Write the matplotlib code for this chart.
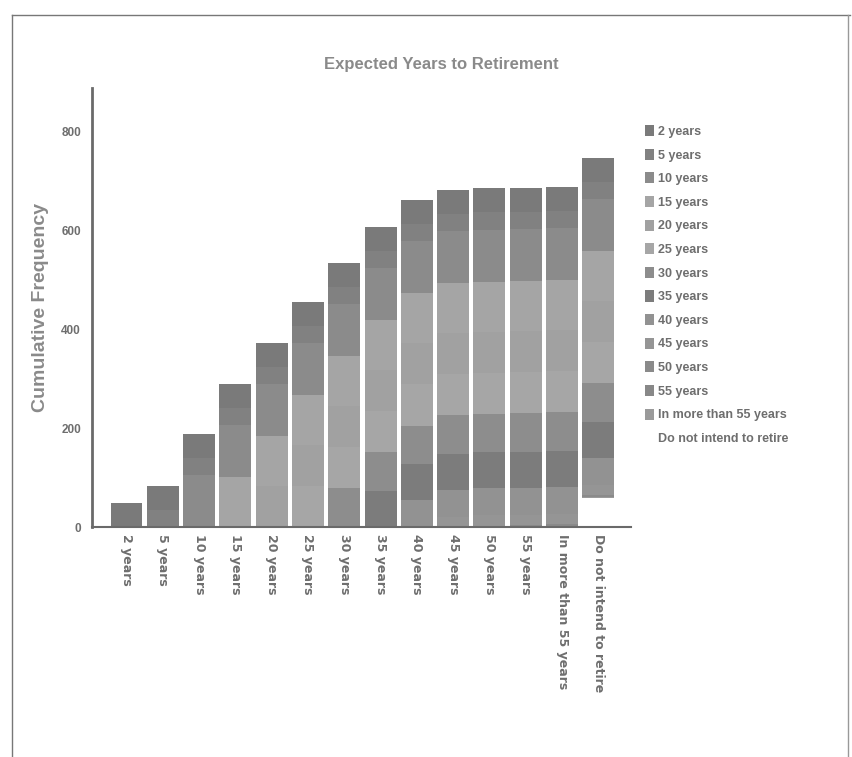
import matplotlib
matplotlib.use("Agg")
import matplotlib.pyplot as plt
from matplotlib.lines import Line2D
from matplotlib.patches import Patch

categories = ["2 years", "5 years", "10 years", "15 years", "20 years", "25 years",
              "30 years", "35 years", "40 years", "45 years", "50 years", "55 years",
              "In more than 55 years", "Do not intend to retire"]
frequencies = [48, 35, 105, 101, 83, 83, 78, 73, 54, 21, 3, 1, 2, 58]
yticks = [0, 200, 400, 600, 800]

colors = ["#7a7a7a", "#818181", "#8b8b8b", "#a5a5a5", "#a1a1a1", "#a6a6a6",
          "#8d8d8d", "#7c7c7c", "#929292", "#959595", "#8a8a8a", "#888888",
          "#9a9a9a", "#ffffff"]

SANS = ["Liberation Sans", "DejaVu Sans"]
TXT = "#6e6e6e"

fig = plt.figure(figsize=(8.52, 7.57), dpi=100)
ax = fig.add_axes([92/852, 1-527/757, (631-92)/852, (527-88)/757])

width = 0.88
for i in range(len(categories)):
    bottom = 0
    for j in range(i, -1, -1):
        ax.bar(i, frequencies[j], bottom=bottom, width=width, color=colors[j],
               edgecolor="none", linewidth=0)
        bottom += frequencies[j]

ax.set_xlim(-0.95, len(categories) - 0.1)
ax.set_ylim(0, 887)
ax.set_yticks(yticks)
ax.set_yticklabels([str(v) for v in yticks], family=SANS, fontweight="bold",
                   fontsize=8.5, color=TXT)
ax.set_xticks(range(len(categories)))
ax.set_xticklabels(categories, rotation=-90, family=["DejaVu Sans"], fontweight="bold",
                   fontsize=9, color=TXT, va="top", ha="center")
ax.tick_params(axis="both", length=0, pad=8)
ax.tick_params(axis="x", pad=5)

for s in ["top", "right"]:
    ax.spines[s].set_visible(False)
ax.spines["left"].set_color("#6a6a6a")
ax.spines["left"].set_linewidth(2)
ax.spines["bottom"].set_color("#6a6a6a")
ax.spines["bottom"].set_linewidth(1.5)

ax.set_ylabel("Cumulative Frequency", family=SANS,
              fontweight="bold", fontsize=14, color="#8a8a8a", labelpad=9)

fig.text(441/852, 1-64/757, "Expected Years to Retirement", family=SANS,
         fontweight="bold", fontsize=12, color="#8a8a8a", ha="center", va="center")

handles = [Patch(facecolor=colors[k], edgecolor="none") for k in range(len(categories))]
leg = fig.legend(handles, categories, loc="upper left",
                 bbox_to_anchor=(645/852, 1-125/757), frameon=False,
                 prop={"family": SANS, "weight": "bold", "size": 9},
                 handlelength=0.75, handleheight=1.0, handletextpad=0.25,
                 labelspacing=0.86, borderpad=0, borderaxespad=0)
for t in leg.get_texts():
    t.set_color(TXT)

# scanned page border
fig.add_artist(Line2D([12/852, 850/852], [1-15/757, 1-15/757], color="#777777", lw=1))
fig.add_artist(Line2D([12/852, 12/852], [0, 1-15/757], color="#777777", lw=1))
fig.add_artist(Line2D([848/852, 848/852], [0, 1-15/757], color="#999999", lw=1))

fig.savefig("out.png", dpi=100, facecolor="white")
